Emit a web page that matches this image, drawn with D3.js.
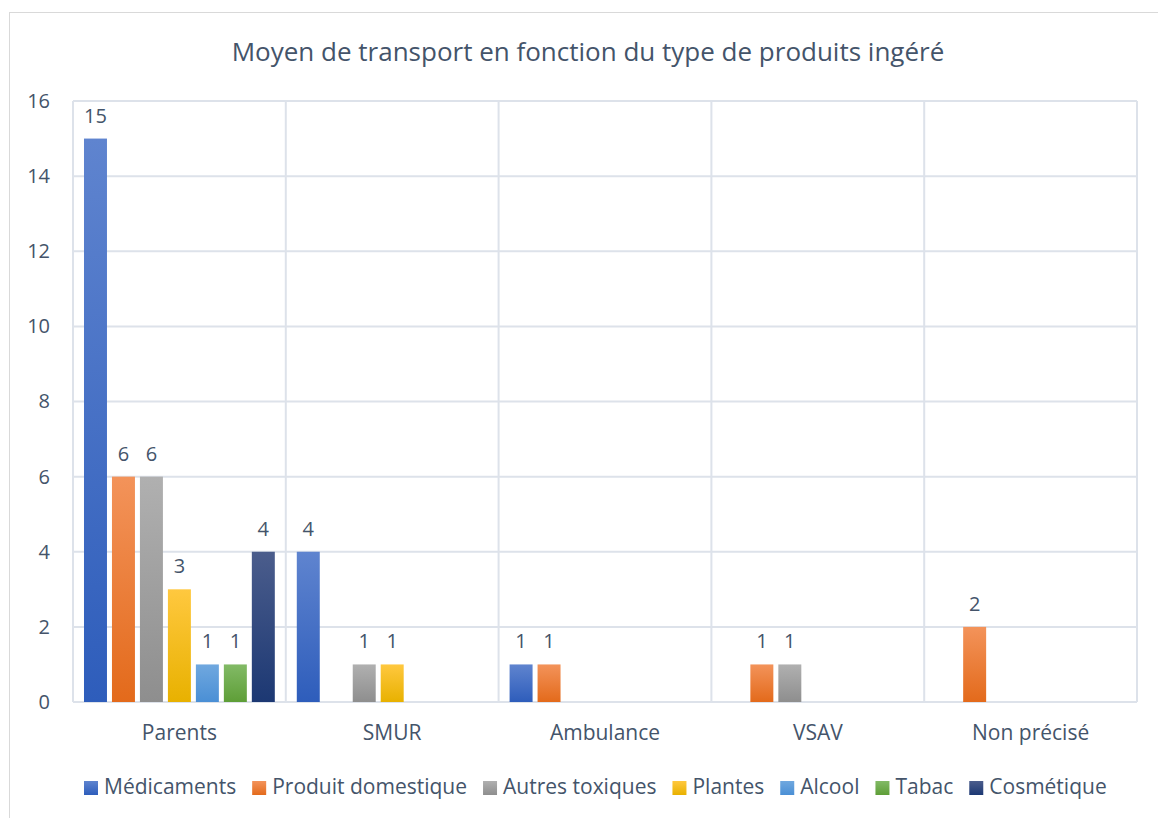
<!DOCTYPE html>
<html>
<head>
<meta charset="utf-8">
<title>Moyen de transport</title>
<script src="https://d3js.org/d3.v7.min.js"></script>
<style>
  body { margin: 0; background: #fff; }
  text { font-family: "Open Sans", sans-serif; fill: #44546A; }
</style>
</head>
<body>
<div id="chart"></div>
<script>
var categories = ["Parents", "SMUR", "Ambulance", "VSAV", "Non précisé"];
var seriesNames = ["Médicaments", "Produit domestique", "Autres toxiques", "Plantes", "Alcool", "Tabac", "Cosmétique"];
// one array per series, null = empty cell
var medicaments = [15, 4, 1, null, null];
var produitDomestique = [6, null, 1, 1, 2];
var autresToxiques = [6, 1, null, 1, null];
var plantes = [3, 1, null, null, null];
var alcool = [1, null, null, null, null];
var tabac = [1, null, null, null, null];
var cosmetique = [4, null, null, null, null];
var yTicks = [0, 2, 4, 6, 8, 10, 12, 14, 16];
var title = "Moyen de transport en fonction du type de produits ingéré";

var seriesValues = [medicaments, produitDomestique, autresToxiques, plantes, alcool, tabac, cosmetique];
// gradient colours [top, bottom]
var colors = [
  ["#5F84CF", "#2E5DBB"],
  ["#F3935A", "#E36A1B"],
  ["#B0B0B0", "#8E8E8E"],
  ["#FFC83F", "#E8B100"],
  ["#70A8DF", "#4A8FD5"],
  ["#82BA66", "#5E9E37"],
  ["#4B5D8C", "#1C3873"]
];

var width = 1158, height = 818;
var plot = { left: 73, right: 1137, top: 101, bottom: 702 };

var svg = d3.select("#chart").append("svg")
  .attr("width", width).attr("height", height);

var defs = svg.append("defs");
colors.forEach(function(c, i) {
  var g = defs.append("linearGradient")
    .attr("id", "grad" + i)
    .attr("x1", 0).attr("y1", 0).attr("x2", 0).attr("y2", 1);
  g.append("stop").attr("offset", "0%").attr("stop-color", c[0]);
  g.append("stop").attr("offset", "100%").attr("stop-color", c[1]);
});

// chart border
svg.append("rect")
  .attr("x", 9.5).attr("y", 12.5)
  .attr("width", 1160).attr("height", 820)
  .attr("fill", "none").attr("stroke", "#D9D9D9").attr("stroke-width", 1);

svg.append("text")
  .attr("x", 588).attr("y", 61)
  .attr("text-anchor", "middle")
  .attr("font-size", 26)
  .text(title);

var x = d3.scaleBand().domain(categories).range([plot.left, plot.right]).padding(0);
var x1 = d3.scaleBand().domain(seriesNames).range([0, x.bandwidth()])
  .paddingInner(5 / 28).paddingOuter(0.393);
var y = d3.scaleLinear().domain([0, 16]).range([plot.bottom, plot.top]);

var grid = svg.append("g").attr("stroke", "#DDE2EA").attr("stroke-width", 2);
grid.selectAll(".h").data(yTicks).enter().append("line")
  .attr("x1", plot.left).attr("x2", plot.right)
  .attr("y1", function(d) { return y(d); }).attr("y2", function(d) { return y(d); });
var vlines = categories.map(function(c) { return x(c); }).concat([plot.right]);
grid.selectAll(".v").data(vlines).enter().append("line")
  .attr("x1", function(d) { return d; }).attr("x2", function(d) { return d; })
  .attr("y1", plot.top).attr("y2", plot.bottom);

// y axis labels
var yAxis = d3.axisLeft(y).tickValues(yTicks).tickSize(0).tickPadding(0);
var ya = svg.append("g").attr("transform", "translate(50,0)").call(yAxis);
ya.select(".domain").remove();
ya.selectAll("text").attr("font-size", 20).style("font-family", "'Open Sans', sans-serif").attr("fill", "#44546A");

// x axis labels
var xAxis = d3.axisBottom(x).tickSize(0).tickPadding(0);
var xa = svg.append("g").attr("transform", "translate(0,725)").call(xAxis);
xa.select(".domain").remove();
xa.selectAll("text").attr("font-size", 21).style("font-family", "'Open Sans', sans-serif").attr("fill", "#44546A");

// bars
var groups = svg.selectAll(".series").data(seriesValues).enter().append("g")
  .attr("fill", function(d, i) { return "url(#grad" + i + ")"; });

groups.each(function(vals, si) {
  var g = d3.select(this);
  var pts = vals.map(function(v, ci) { return { cat: categories[ci], v: v }; })
    .filter(function(d) { return d.v !== null; });
  g.selectAll("rect").data(pts).enter().append("rect")
    .attr("x", function(d) { return x(d.cat) + x1(seriesNames[si]); })
    .attr("width", x1.bandwidth())
    .attr("y", function(d) { return y(d.v); })
    .attr("height", function(d) { return y(0) - y(d.v); });
  g.selectAll("text").data(pts).enter().append("text")
    .attr("x", function(d) { return x(d.cat) + x1(seriesNames[si]) + x1.bandwidth() / 2; })
    .attr("y", function(d) { return y(d.v) - 16; })
    .attr("text-anchor", "middle")
    .attr("font-size", 20)
    .text(function(d) { return d.v; });
});

// legend
var legend = svg.append("g").attr("transform", "translate(84,786)");
var lx = 0;
seriesNames.forEach(function(name, i) {
  var item = legend.append("g").attr("transform", "translate(" + lx + ",0)");
  item.append("rect").attr("x", 0).attr("y", -5).attr("width", 14).attr("height", 14)
    .attr("fill", "url(#grad" + i + ")");
  var t = item.append("text").attr("x", 20).attr("y", 8).attr("font-size", 21).text(name);
  lx += 20 + t.node().getComputedTextLength() + 16;
});
</script>
</body>
</html>
